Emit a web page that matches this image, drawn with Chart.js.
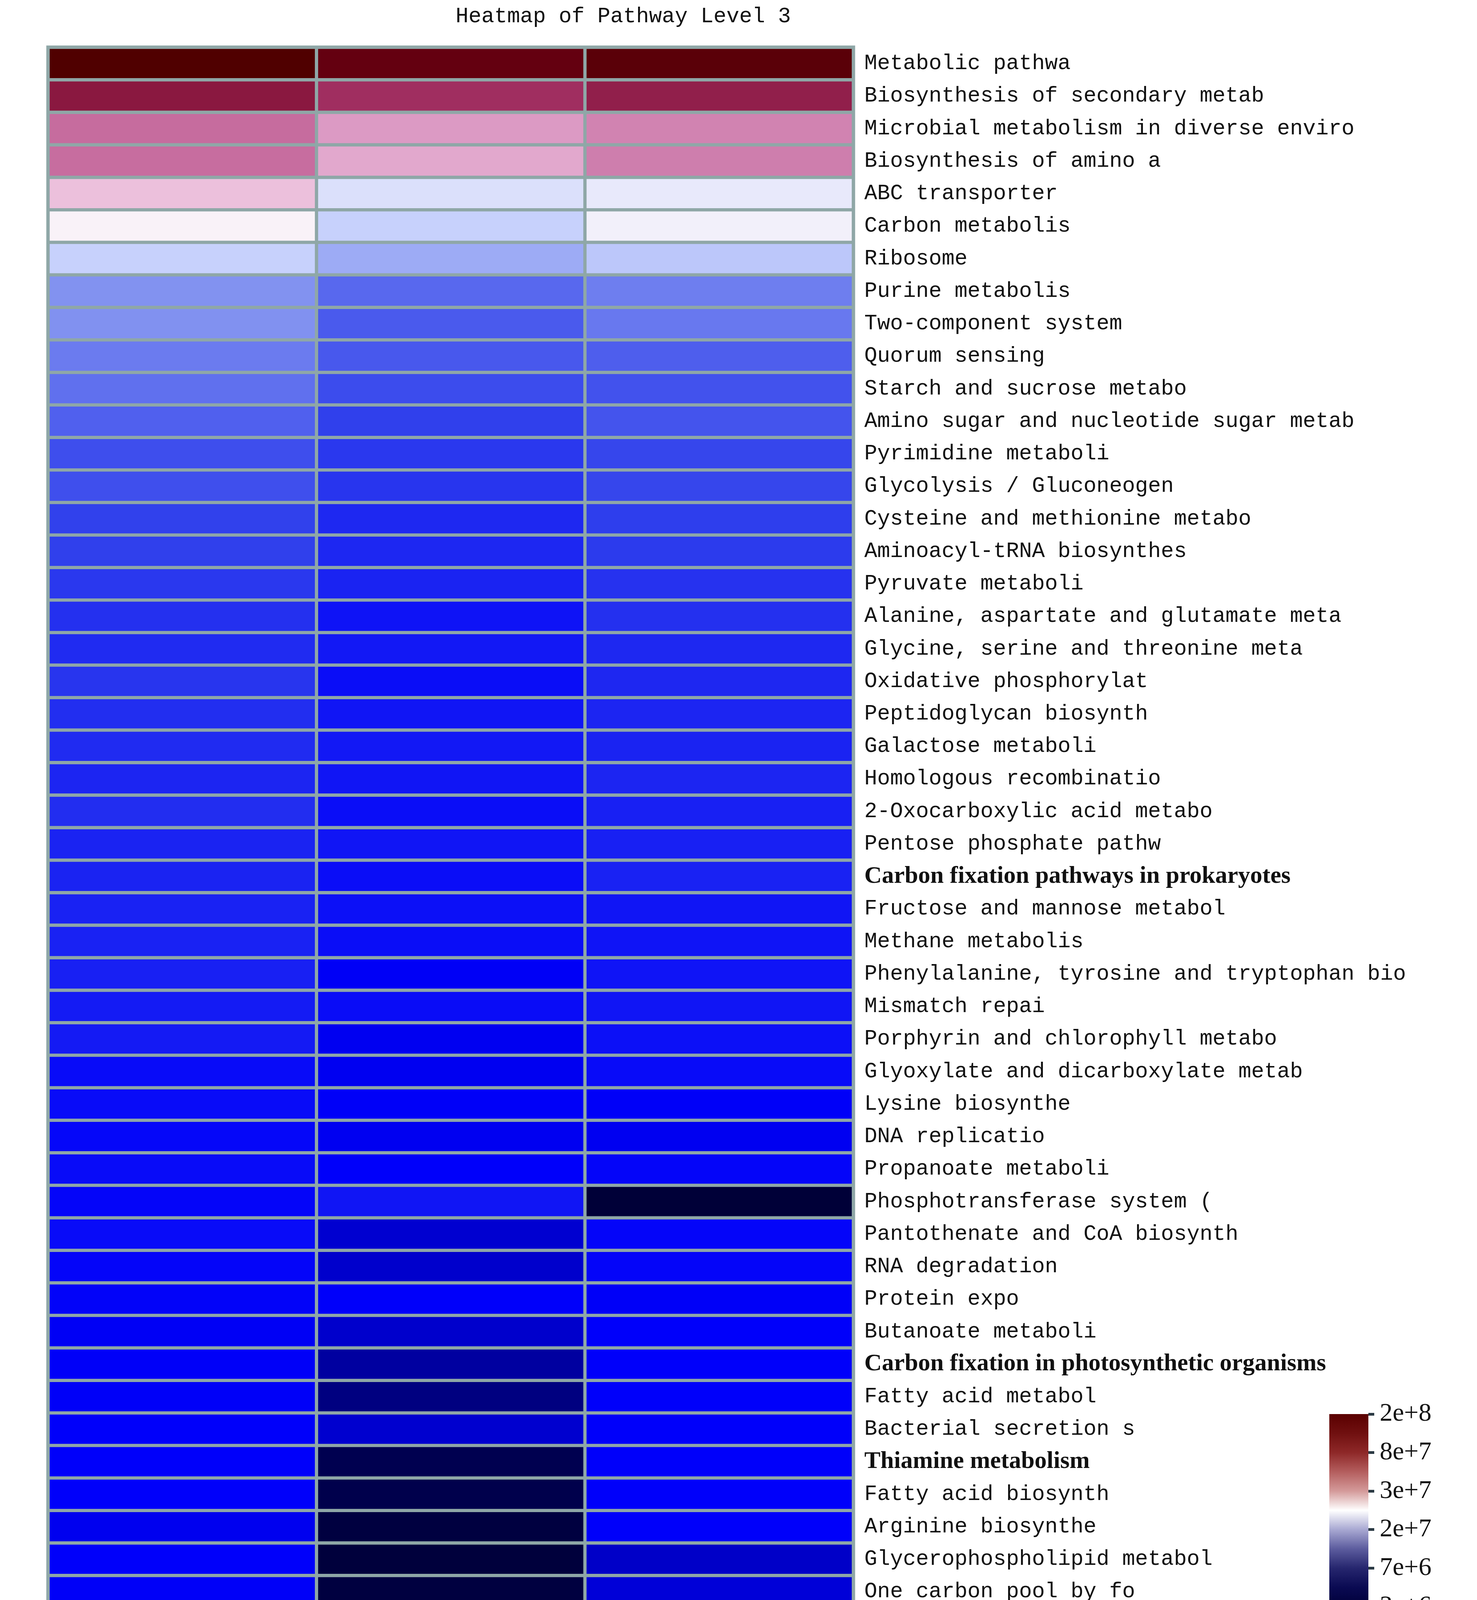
<!DOCTYPE html>
<html>
<head>
<meta charset="utf-8">
<title>Heatmap of Pathway Level 3</title>
<script src="https://cdn.jsdelivr.net/npm/chart.js"></script>
<style>
  html, body { margin: 0; padding: 0; background: #ffffff; }
  #page { position: relative; width: 3780px; height: 4378px; }
  #heat { position: absolute; left: 0; top: 0; }
  #cbar { position: absolute; left: 3368px; top: 3555px; }
</style>
</head>
<body>
<div id="page">
  <canvas id="heat" width="3780" height="4378"></canvas>
  <canvas id="cbar" width="412" height="620"></canvas>
</div>
<script>
// ---- data ----
const groups = ['Group C', 'Group B', 'Group A'];

const pathways = [
  'Metabolic pathwa',
  'Biosynthesis of secondary metab',
  'Microbial metabolism in diverse enviro',
  'Biosynthesis of amino a',
  'ABC transporter',
  'Carbon metabolis',
  'Ribosome',
  'Purine metabolis',
  'Two-component system',
  'Quorum sensing',
  'Starch and sucrose metabo',
  'Amino sugar and nucleotide sugar metab',
  'Pyrimidine metaboli',
  'Glycolysis / Gluconeogen',
  'Cysteine and methionine metabo',
  'Aminoacyl-tRNA biosynthes',
  'Pyruvate metaboli',
  'Alanine, aspartate and glutamate meta',
  'Glycine, serine and threonine meta',
  'Oxidative phosphorylat',
  'Peptidoglycan biosynth',
  'Galactose metaboli',
  'Homologous recombinatio',
  '2-Oxocarboxylic acid metabo',
  'Pentose phosphate pathw',
  'Carbon fixation pathways in prokaryotes',
  'Fructose and mannose metabol',
  'Methane metabolis',
  'Phenylalanine, tyrosine and tryptophan bio',
  'Mismatch repai',
  'Porphyrin and chlorophyll metabo',
  'Glyoxylate and dicarboxylate metab',
  'Lysine biosynthe',
  'DNA replicatio',
  'Propanoate metaboli',
  'Phosphotransferase system (',
  'Pantothenate and CoA biosynth',
  'RNA degradation',
  'Protein expo',
  'Butanoate metaboli',
  'Carbon fixation in photosynthetic organisms',
  'Fatty acid metabol',
  'Bacterial secretion s',
  'Thiamine metabolism',
  'Fatty acid biosynth',
  'Arginine biosynthe',
  'Glycerophospholipid metabol',
  'One carbon pool by fo',
  'Cell cycle - Caulob',
  'Valine, leucine and isoleucine bio'
];

// rows whose label is printed in a different (bold serif) face
const boldRows = [25, 40, 43];

const groupC = [
  2.0e8, 1.26e8, 5.4e7, 5.35e7, 2.77e7, 2.47e7, 2.21e7, 1.80e7, 1.79e7, 1.60e7,
  1.51e7, 1.385e7, 1.26e7, 1.27e7, 1.18e7, 1.17e7, 1.135e7, 1.10e7, 1.077e7, 1.12e7,
  1.09e7, 1.077e7, 1.054e7, 1.088e7, 1.043e7, 1.043e7, 1.04e7, 1.04e7, 1.032e7, 1.011e7,
  1.01e7, 9.49e6, 9.49e6, 9.34e6, 9.5e6, 9.3e6, 9.5e6, 9.3e6, 9.2e6, 8.8e6,
  9.0e6, 9.0e6, 9.1e6, 9.1e6, 9.1e6, 8.5e6, 9.1e6, 9.0e6, 9.1e6, 9.1e6
];

const groupB = [
  1.665e8, 9.61e7, 3.65e7, 3.15e7, 2.30e7, 2.21e7, 2.03e7, 1.444e7, 1.342e7, 1.328e7,
  1.247e7, 1.171e7, 1.135e7, 1.123e7, 1.065e7, 1.06e7, 1.043e7, 9.8e6, 1.0e7, 9.59e6,
  9.9e6, 1.0e7, 9.9e6, 9.59e6, 9.9e6, 9.59e6, 9.69e6, 9.59e6, 8.85e6, 9.55e6,
  8.6e6, 8.6e6, 8.98e6, 8.6e6, 9.1e6, 9.9e6, 6.94e6, 6.8e6, 9.1e6, 6.8e6,
  5.39e6, 4.56e6, 6.9e6, 3.55e6, 3.47e6, 3.26e6, 3.19e6, 3.26e6, 3.40e6, 3.0e6
];

const groupA = [
  1.825e8, 1.154e8, 4.44e7, 4.65e7, 2.36e7, 2.41e7, 2.16e7, 1.62e7, 1.571e7, 1.371e7,
  1.287e7, 1.30e7, 1.208e7, 1.21e7, 1.16e7, 1.147e7, 1.11e7, 1.10e7, 1.065e7, 1.063e7,
  1.054e7, 1.043e7, 1.054e7, 1.032e7, 1.032e7, 1.04e7, 9.9e6, 9.85e6, 9.85e6, 9.9e6,
  9.69e6, 9.49e6, 8.98e6, 8.6e6, 9.3e6, 3.13e6, 9.3e6, 9.3e6, 9.0e6, 9.1e6,
  9.1e6, 9.1e6, 9.1e6, 9.1e6, 9.1e6, 9.1e6, 6.65e6, 7.3e6, 5.87e6, 5.39e6
];

// colour bar ticks (evenly spaced on the bar)
const cbTicks = ['3e+6', '7e+6', '2e+7', '3e+7', '8e+7', '2e+8'];
const cbValues = [3e6, 7e6, 2e7, 3e7, 8e7, 2e8];

// ---- colour helpers ----
const gapColor = '#8fa7a7';

const cellStops = [
  [0.000, [0, 0, 48]],
  [0.250, [0, 0, 250]],
  [0.298, [48, 64, 236]],
  [0.380, [130, 146, 240]],
  [0.450, [200, 210, 252]],
  [0.500, [250, 246, 250]],
  [0.560, [236, 192, 220]],
  [0.640, [220, 154, 196]],
  [0.720, [198, 108, 158]],
  [0.840, [160, 46, 96]],
  [0.900, [138, 24, 64]],
  [0.960, [100, 0, 16]],
  [1.000, [80, 0, 0]]
];

const barStops = [
  [0.0, '#00003a'], [0.1, '#0a0a52'], [0.2, '#26266e'], [0.3, '#5c5c9e'],
  [0.4, '#a8a8d2'], [0.5, '#ffffff'], [0.6, '#d49a9a'], [0.7, '#b45e5e'],
  [0.8, '#8e2828'], [0.9, '#701010'], [1.0, '#5a0000']
];

function valueToT(v) {
  const n = cbValues.length - 1;
  if (v <= cbValues[0]) return 0;
  if (v >= cbValues[n]) return 1;
  for (let i = 0; i < n; i++) {
    if (v <= cbValues[i + 1]) {
      const f = Math.log(v / cbValues[i]) / Math.log(cbValues[i + 1] / cbValues[i]);
      return (i + f) / n;
    }
  }
  return 1;
}

function cellColor(v) {
  const t = valueToT(v);
  for (let i = 0; i < cellStops.length - 1; i++) {
    const [t0, c0] = cellStops[i];
    const [t1, c1] = cellStops[i + 1];
    if (t <= t1) {
      const f = (t - t0) / (t1 - t0);
      const c = c0.map((x, k) => Math.round(x + (c1[k] - x) * f));
      return `rgb(${c[0]},${c[1]},${c[2]})`;
    }
  }
  const c = cellStops[cellStops.length - 1][1];
  return `rgb(${c[0]},${c[1]},${c[2]})`;
}

// ---- plugins ----
const gridBackground = {
  id: 'gridBackground',
  beforeDatasetsDraw(chart) {
    const { ctx, chartArea: a } = chart;
    ctx.save();
    ctx.fillStyle = gapColor;
    ctx.fillRect(a.left - 4.5, a.top - 4.5, a.width + 9, a.height + 9);
    ctx.restore();
  }
};

const titleText = {
  id: 'titleText',
  afterDraw(chart) {
    const ctx = chart.ctx;
    ctx.save();
    ctx.font = '55px "Liberation Mono"';
    ctx.fillStyle = '#111111';
    ctx.textAlign = 'center';
    ctx.textBaseline = 'middle';
    ctx.fillText('Heatmap of Pathway Level 3', 1595, 42);
    ctx.restore();
  }
};

const monoFont = { family: '"Liberation Mono", monospace', size: 55 };
const boldFont = { family: '"Liberation Serif", serif', size: 62, weight: 'bold' };

// ---- heatmap ----
const series = [groupC, groupB, groupA];

new Chart(document.getElementById('heat'), {
  type: 'bar',
  data: {
    labels: pathways,
    datasets: groups.map((g, gi) => ({
      label: g,
      data: pathways.map(() => 1),
      backgroundColor: series[gi].map(cellColor),
      borderColor: gapColor,
      borderWidth: 4.5,
      borderSkipped: false,
      barPercentage: 1,
      categoryPercentage: 1
    }))
  },
  options: {
    indexAxis: 'y',
    responsive: false,
    animation: false,
    devicePixelRatio: 1,
    layout: { padding: { left: 123, top: 121, right: 0, bottom: 0 } },
    plugins: { legend: { display: false }, tooltip: { enabled: false }, title: { display: false } },
    scales: {
      x: {
        type: 'linear',
        stacked: true,
        min: 0,
        max: 3,
        grid: { display: false },
        border: { display: false },
        afterBuildTicks: (s) => { s.ticks = groups.map((_, i) => ({ value: i + 0.5 })); },
        afterFit: (s) => { s.height = 95; },
        ticks: {
          callback: (v, i) => groups[i],
          font: monoFont,
          color: '#111111',
          padding: 27,
          maxRotation: 0,
          autoSkip: false
        }
      },
      y: {
        type: 'category',
        position: 'right',
        stacked: true,
        grid: { display: false },
        border: { display: false },
        afterFit: (s) => { s.width = 1596; },
        ticks: {
          autoSkip: false,
          padding: 20,
          color: '#111111',
          font: (ctx) => boldRows.includes(ctx.index) ? boldFont : monoFont
        }
      }
    }
  },
  plugins: [gridBackground, titleText]
});

// ---- colour bar ----
new Chart(document.getElementById('cbar'), {
  type: 'bar',
  data: {
    labels: [''],
    datasets: [{
      data: [[0, cbTicks.length - 1]],
      backgroundColor: (c) => {
        const ch = c.chart;
        const a = ch.chartArea;
        if (!a) return '#ffffff';
        const g = ch.ctx.createLinearGradient(0, a.bottom, 0, a.top);
        barStops.forEach(([o, col]) => g.addColorStop(o, col));
        return g;
      },
      borderWidth: 0,
      barPercentage: 1,
      categoryPercentage: 1
    }]
  },
  options: {
    responsive: false,
    animation: false,
    devicePixelRatio: 1,
    layout: { padding: { left: 34, top: 65, right: 0, bottom: 62 } },
    plugins: { legend: { display: false }, tooltip: { enabled: false } },
    scales: {
      x: { display: false },
      y: {
        position: 'right',
        min: 0,
        max: cbTicks.length - 1,
        border: { display: false },
        afterFit: (s) => { s.width = 278; },
        grid: { drawOnChartArea: false, drawTicks: true, tickLength: 15, tickWidth: 7, tickColor: '#2b3a44' },
        ticks: {
          stepSize: 1,
          callback: (v) => cbTicks[v],
          font: { family: '"Liberation Serif", serif', size: 66 },
          color: '#111111',
          padding: 14
        }
      }
    }
  }
});
</script>
</body>
</html>
